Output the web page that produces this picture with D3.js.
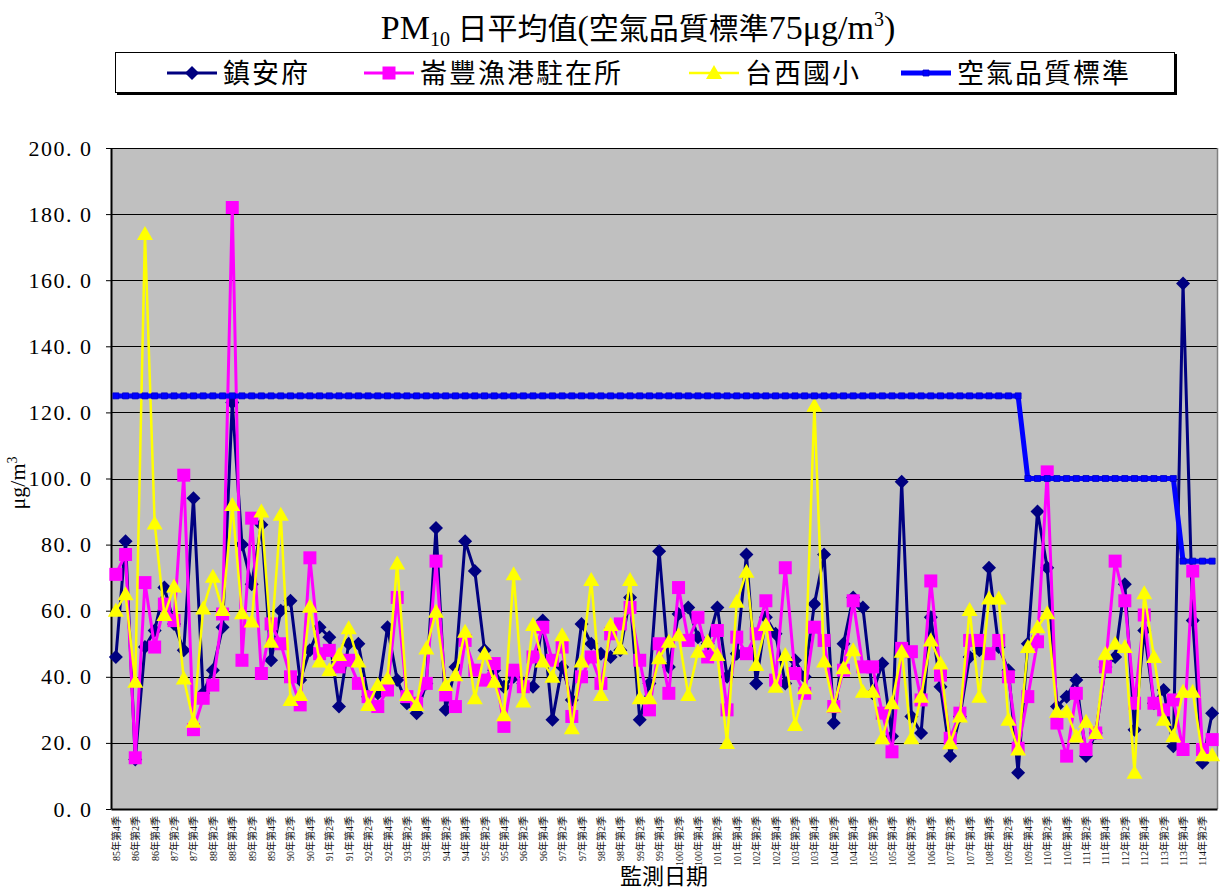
<!DOCTYPE html>
<html>
<head>
<meta charset="utf-8">
<script src="https://cdn.jsdelivr.net/npm/d3@7"></script>
<style>
  body { margin: 0; background: #fff; }
  svg { display: block; }
</style>
</head>
<body>
<svg id="chart" width="1221" height="889"></svg>
<script>
// Quarterly monitoring periods (108 has only two reported quarters)
const categories = [
  "85年第4季",
  "86年第1季","86年第2季","86年第3季","86年第4季",
  "87年第1季","87年第2季","87年第3季","87年第4季",
  "88年第1季","88年第2季","88年第3季","88年第4季",
  "89年第1季","89年第2季","89年第3季","89年第4季",
  "90年第1季","90年第2季","90年第3季","90年第4季",
  "91年第1季","91年第2季","91年第3季","91年第4季",
  "92年第1季","92年第2季","92年第3季","92年第4季",
  "93年第1季","93年第2季","93年第3季","93年第4季",
  "94年第1季","94年第2季","94年第3季","94年第4季",
  "95年第1季","95年第2季","95年第3季","95年第4季",
  "96年第1季","96年第2季","96年第3季","96年第4季",
  "97年第1季","97年第2季","97年第3季","97年第4季",
  "98年第1季","98年第2季","98年第3季","98年第4季",
  "99年第1季","99年第2季","99年第3季","99年第4季",
  "100年第1季","100年第2季","100年第3季","100年第4季",
  "101年第1季","101年第2季","101年第3季","101年第4季",
  "102年第1季","102年第2季","102年第3季","102年第4季",
  "103年第1季","103年第2季","103年第3季","103年第4季",
  "104年第1季","104年第2季","104年第3季","104年第4季",
  "105年第1季","105年第2季","105年第3季","105年第4季",
  "106年第1季","106年第2季","106年第3季","106年第4季",
  "107年第1季","107年第2季","107年第3季","107年第4季",
  "108年第2季","108年第4季",
  "109年第1季","109年第2季","109年第3季","109年第4季",
  "110年第1季","110年第2季","110年第3季","110年第4季",
  "111年第1季","111年第2季","111年第3季","111年第4季",
  "112年第1季","112年第2季","112年第3季","112年第4季",
  "113年第1季","113年第2季","113年第3季","113年第4季",
  "114年第1季","114年第2季","114年第3季"
];

// PM10 quarterly means (μg/m3)
const zhenAnFu = [
  46, 81, 15, 49, 54, 67, 56, 48, 94, 35,
  42, 55, 123, 80, 68, 86, 45, 60, 63, 39,
  48, 55, 52, 31, 50, 50, 34, 35, 55, 39,
  32, 29, 38, 85, 30, 43, 81, 72, 48, 42,
  37, 40, 38, 37, 57, 27, 43, 33, 56, 50,
  47, 46, 48, 64, 27, 38, 78, 43, 59, 61,
  52, 50, 61, 40, 47, 77, 38, 58, 53, 38,
  45, 40, 62, 77, 26, 50, 64, 61, 35, 44,
  22, 99, 28, 23, 58, 37, 16, 28, 46, 48,
  73, 49, 42, 11, 50, 90, 73, 31, 34, 39,
  16, 23, 43, 46, 68, 24, 54, 32, 36, 19,
  159, 57, 14, 29
];

const lunFengPort = [
  71, 77, 15.5, 68.5, 49, 62, 57, 101, 24, 33.5,
  37.5, 59, 182, 45, 88, 41, 56, 50, 40, 31.5,
  76, 47, 48, 43, 45, 38, 34, 31, 36, 64,
  34, 32, 38, 75, 34.5, 31, 51, 42, 39, 44,
  25, 42, 37, 46, 55, 45, 49, 28, 40, 46,
  38, 53, 56, 61, 45, 30, 50, 35, 67, 51,
  58, 46, 54, 30, 52, 47, 53, 63, 39, 73,
  41, 35, 55, 51, 31, 42, 63, 43, 43, 29,
  17.3, 48.6, 47.6, 33, 69, 40.5, 21.4, 29, 51, 51,
  47, 51, 40, 18.4, 34, 50.6, 102, 26, 16, 35,
  18, 23, 43, 75, 63, 32, 58.7, 32, 30, 33,
  18, 72, 18, 21
];

const taiXiSchool = [
  60, 65, 38.5, 174, 86.4, 58.7, 67.3, 39.5, 26.4, 60.7,
  70.3, 60.2, 92, 59.2, 56.7, 90, 50.6, 89, 33, 34.5,
  61.2, 44.6, 42, 46.6, 54.7, 44.6, 31.5, 37.5, 39.5, 74.3,
  34.5, 31.5, 48.6, 59.7, 37.5, 40.5, 53.6, 33.5, 47, 38.5,
  28.4, 71, 32.5, 55.7, 44.6, 40, 52.6, 24.4, 44.6, 69.3,
  34.5, 55.7, 48.6, 69.3, 33.5, 33.5, 45.6, 50.6, 52.6, 34.5,
  47.6, 50.6, 46.6, 20, 62.7, 71.8, 43.6, 55.7, 37, 46.6,
  25.4, 36.5, 122, 44.6, 31, 42.6, 48, 35.5, 35.5, 21.4,
  32, 47.6, 21.4, 34, 51, 44, 19.9, 28, 60.2, 34,
  63.7, 63.7, 27, 18, 49, 55, 59.2, 29.4, 29.4, 21.9,
  26.4, 23, 47, 50, 49, 11, 65.3, 46, 27, 22,
  35.5, 35.5, 16.3, 16.3
];

// Daily PM10 air quality standard in force for each period
const airStandard = [
  125, 125, 125, 125, 125, 125, 125, 125, 125, 125,
  125, 125, 125, 125, 125, 125, 125, 125, 125, 125,
  125, 125, 125, 125, 125, 125, 125, 125, 125, 125,
  125, 125, 125, 125, 125, 125, 125, 125, 125, 125,
  125, 125, 125, 125, 125, 125, 125, 125, 125, 125,
  125, 125, 125, 125, 125, 125, 125, 125, 125, 125,
  125, 125, 125, 125, 125, 125, 125, 125, 125, 125,
  125, 125, 125, 125, 125, 125, 125, 125, 125, 125,
  125, 125, 125, 125, 125, 125, 125, 125, 125, 125,
  125, 125, 125, 125, 100, 100, 100, 100, 100, 100,
  100, 100, 100, 100, 100, 100, 100, 100, 100, 100,
  75, 75, 75, 75
];

const seriesNames = ["鎮安府", "崙豐漁港駐在所", "台西國小", "空氣品質標準"];
const yTicks = [0, 20, 40, 60, 80, 100, 120, 140, 160, 180, 200];
const tickLabels = categories.filter((d, i) => i % 2 === 0);

const series = [
  { name: seriesNames[0], values: zhenAnFu,    color: "#000080", width: 3,   marker: "diamond" },
  { name: seriesNames[1], values: lunFengPort, color: "#FF00FF", width: 3,   marker: "square" },
  { name: seriesNames[2], values: taiXiSchool, color: "#FFFF00", width: 2.5, marker: "triangle" },
  { name: seriesNames[3], values: airStandard, color: "#0000FF", width: 5,   marker: "dot" }
];

const svg = d3.select("#chart");
const plot = { left: 111, right: 1217, top: 148, bottom: 809 };
const serifCJK = "'Liberation Serif', 'Noto Sans CJK TC', serif";

const x = d3.scalePoint().domain(categories).range([plot.left, plot.right]).padding(0.5);
const y = d3.scaleLinear().domain([0, 200]).range([plot.bottom, plot.top]);

// Plot background
svg.append("rect")
  .attr("x", plot.left).attr("y", plot.top)
  .attr("width", plot.right - plot.left).attr("height", plot.bottom - plot.top)
  .attr("fill", "#C0C0C0");

// Horizontal gridlines
svg.append("g").selectAll("line")
  .data(yTicks.filter(v => v > 0))
  .join("line")
  .attr("x1", plot.left).attr("x2", plot.right)
  .attr("y1", d => Math.round(y(d)) + 0.5).attr("y2", d => Math.round(y(d)) + 0.5)
  .attr("stroke", "#000").attr("stroke-width", 1);

// Right edge of plot area
svg.append("line")
  .attr("x1", plot.right + 0.5).attr("x2", plot.right + 0.5)
  .attr("y1", plot.top).attr("y2", plot.bottom)
  .attr("stroke", "#808080").attr("stroke-width", 1.5);

// Y axis; labels are set as "200. 0" style with a spaced decimal digit
const fmt = d3.format(".1f");
const yAxis = d3.axisLeft(y)
  .tickValues(yTicks)
  .tickFormat(fmt)
  .tickSizeInner(5).tickSizeOuter(0).tickPadding(15);
svg.append("g")
  .attr("transform", `translate(${plot.left},0)`)
  .call(yAxis)
  .call(g => g.select(".domain").attr("stroke", "#000").attr("stroke-width", 2))
  .call(g => g.selectAll(".tick line").attr("stroke", "#000"))
  .call(g => g.selectAll("text")
    .attr("font-family", serifCJK)
    .attr("font-size", 22)
    .attr("fill", "#000")
    .each(function(d) {
      const parts = fmt(d).split(".");
      const t = d3.select(this).text(null);
      t.append("tspan").attr("letter-spacing", 1.5).text(parts[0] + ".");
      t.append("tspan").attr("dx", 7).text(parts[1]);
    }));

// X axis with rotated period labels
const xAxis = d3.axisBottom(x).tickValues(tickLabels).tickSize(0).tickPadding(0);
svg.append("g")
  .attr("transform", `translate(0,${plot.bottom})`)
  .call(xAxis)
  .call(g => g.select(".domain").attr("stroke", "#000").attr("stroke-width", 2))
  .call(g => g.selectAll("text")
    .attr("transform", "rotate(-90)")
    .attr("x", -7).attr("y", 0).attr("dy", "0.35em")
    .attr("text-anchor", "end")
    .attr("font-family", serifCJK)
    .attr("font-size", 10)
    .attr("fill", "#111"));

// Marker shapes
function markerPath(type) {
  switch (type) {
    case "diamond": return "M0,-7L7,0L0,7L-7,0Z";
    case "square": return "M-6.5,-6.5H6.5V6.5H-6.5Z";
    case "triangle": return "M0,-8L8,6L-8,6Z";
    default: return "M-3,-3H3V3H-3Z";
  }
}

const line = d3.line()
  .x((d, i) => x(categories[i]))
  .y(d => y(d));

series.forEach(s => {
  const g = svg.append("g");
  g.append("path")
    .datum(s.values)
    .attr("d", line)
    .attr("fill", "none")
    .attr("stroke", s.color)
    .attr("stroke-width", s.width)
    .attr("stroke-linejoin", "miter");
  g.selectAll("path.mk")
    .data(s.values)
    .join("path")
    .attr("class", "mk")
    .attr("d", markerPath(s.marker))
    .attr("transform", (d, i) => `translate(${x(categories[i])},${y(d)})`)
    .attr("fill", s.color)
    .attr("stroke", s.marker === "dot" ? "#0000C8" : "none")
    .attr("stroke-width", 0.8);
});

// Title
const title = svg.append("text")
  .attr("x", 638).attr("y", 39)
  .attr("text-anchor", "middle")
  .attr("font-family", serifCJK)
  .attr("font-size", 30)
  .attr("fill", "#000");
title.append("tspan").attr("font-size", 34).text("PM");
title.append("tspan").attr("font-size", 20).attr("dy", 7).text("10");
title.append("tspan").attr("dy", -7).text(" 日平均值");
title.append("tspan").attr("font-size", 34).text("(");
title.append("tspan").text("空氣品質標準");
title.append("tspan").attr("font-size", 34).text("75μg/m");
title.append("tspan").attr("font-size", 20).attr("dy", -13).text("3");
title.append("tspan").attr("font-size", 34).attr("dy", 13).text(")");

// Legend
const legend = svg.append("g");
legend.append("rect")
  .attr("x", 115.5).attr("y", 52.5).attr("width", 1059).attr("height", 40)
  .attr("fill", "#fff").attr("stroke", "#000").attr("stroke-width", 1);
legend.append("path")
  .attr("d", "M117,94H1176V54")
  .attr("fill", "none").attr("stroke", "#000").attr("stroke-width", 2);

const legendX = [167, 364, 689, 901];
series.forEach((s, i) => {
  const lx = legendX[i];
  const ly = 73;
  legend.append("line")
    .attr("x1", lx).attr("x2", lx + 50).attr("y1", ly).attr("y2", ly)
    .attr("stroke", s.color).attr("stroke-width", s.width);
  legend.append("path")
    .attr("d", markerPath(s.marker))
    .attr("transform", `translate(${lx + 25},${ly})`)
    .attr("fill", s.color)
    .attr("stroke", s.marker === "dot" ? "#0000C8" : "none")
    .attr("stroke-width", 0.8);
  legend.append("text")
    .attr("x", lx + 56).attr("y", ly + 10)
    .attr("font-family", serifCJK)
    .attr("font-size", 27)
    .attr("letter-spacing", 2)
    .attr("fill", "#000")
    .text(s.name);
});

// Axis titles
svg.append("text")
  .attr("x", 664).attr("y", 884)
  .attr("text-anchor", "middle")
  .attr("font-family", serifCJK)
  .attr("font-size", 22)
  .attr("fill", "#000")
  .text("監測日期");

const yTitle = svg.append("text")
  .attr("transform", "translate(25,483) rotate(-90)")
  .attr("text-anchor", "middle")
  .attr("font-family", serifCJK)
  .attr("font-size", 22)
  .attr("fill", "#000");
yTitle.append("tspan").text("μg/m");
yTitle.append("tspan").attr("font-size", 14).attr("dy", -8).text("3");
</script>
</body>
</html>
